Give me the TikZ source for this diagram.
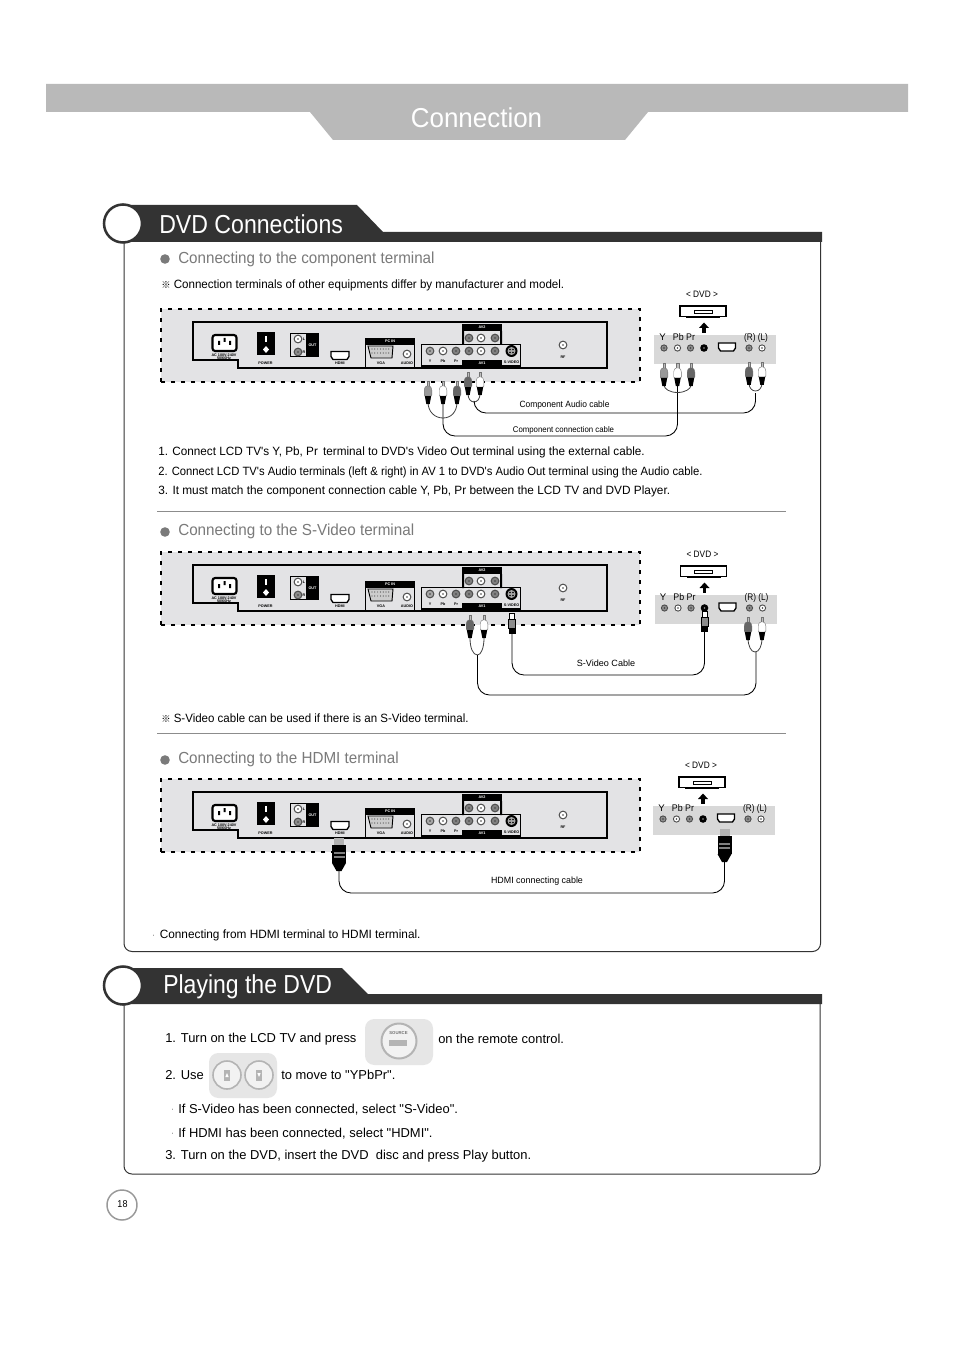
\documentclass[tikz,border=0pt]{standalone}
\usepackage{fontspec}
\usepackage{graphicx}
\setmainfont{Liberation Sans}
\newfontfamily\plainf{Liberation Sans}
\newfontfamily\cjkf{Noto Sans CJK SC}
\usetikzlibrary{calc}
\definecolor{bannerdark}{HTML}{333333}
\definecolor{titlegray}{HTML}{B9B9B9}
\definecolor{panelgray}{HTML}{E3E3E5}
\definecolor{headgray}{HTML}{7A7A7A}
\definecolor{keygray}{HTML}{E6E6E6}
\definecolor{ringgray}{HTML}{B4B4B4}
\definecolor{dvdgray}{HTML}{D8D8D8}
\newcommand{\xs}[2]{\scalebox{#1}[1]{#2}}
\tikzset{
 lbl/.style={inner sep=0pt,anchor=west,text=black,font=\plainf\fontsize{9}{11}\selectfont},
 lblb/.style={inner sep=0pt,anchor=west,text=black,font=\plainf\fontsize{9.7}{11}\selectfont},
 head/.style={inner sep=0pt,anchor=west,text=headgray,font=\fontsize{12}{14}\selectfont},
 capt/.style={inner sep=0pt,text=black,font=\fontsize{7}{9}\selectfont},
 conn/.style={inner sep=0pt,text=black,font=\fontsize{6.8}{9}\selectfont},
 mini/.style={inner sep=0pt,font=\bfseries\fontsize{2.8}{3}\selectfont},
 banner/.style={inner sep=0pt,anchor=west,text=white,font=\fontsize{19.5}{22}\selectfont},
 frameline/.style={draw=bannerdark,line width=0.75pt},
 cable/.style={draw=black,line width=0.65pt,rounded corners=9pt},
 loopc/.style={draw=black!75,line width=0.6pt},
 rule/.style={draw=black!45,line width=0.6pt},
}
% jack: x, y, fill
\newcommand{\jack}[3]{%
 \fill[black!70] (#1,#2) circle[radius=4.4];
 \fill[#3] (#1,#2) circle[radius=3.2];
 \fill[black!75] (#1,#2) circle[radius=0.9];
}
% small jack for the dvd strip
\newcommand{\sjack}[3]{%
 \fill[black!70] (#1,#2) circle[radius=3.6];
 \fill[#3] (#1,#2) circle[radius=2.5];
 \fill[black!75] (#1,#2) circle[radius=0.8];
}
% rca plug: x, top, body colour
\newcommand{\rca}[3]{%
 \filldraw[draw=black!55,fill=black!25,line width=0.25pt] ($(#1,#2)+(-1.2,0)$) rectangle ($(#1,#2)+(1.2,5)$);
 \filldraw[draw=black!55,fill=#3,line width=0.3pt,rounded corners=0.8pt] ($(#1,#2)+(-2.2,5)$) -- ($(#1,#2)+(2.2,5)$) -- ($(#1,#2)+(3.8,8)$) -- ($(#1,#2)+(3.8,15)$) -- ($(#1,#2)+(-3.8,15)$) -- ($(#1,#2)+(-3.8,8)$) -- cycle;
 \fill[black] ($(#1,#2)+(-3.2,15)$) -- ($(#1,#2)+(3.2,15)$) -- ($(#1,#2)+(1.7,23)$) -- ($(#1,#2)+(-1.7,23)$) -- cycle;
}
\newcommand{\svplug}[2]{%
 \filldraw[draw=black,fill=white,line width=0.6pt] ($(#1,#2)+(-2.5,0)$) rectangle ($(#1,#2)+(2.5,6)$);
 \filldraw[draw=black,fill=black!45,line width=0.4pt] ($(#1,#2)+(-3.5,6)$) rectangle ($(#1,#2)+(3.5,15)$);
 \fill[black] ($(#1,#2)+(-3.5,15)$) rectangle ($(#1,#2)+(3.5,21)$);
}
\newcommand{\hdmiplug}[2]{%
 \fill[black!30] ($(#1,#2)+(-5,0)$) rectangle ($(#1,#2)+(5,7)$);
 \fill[black] ($(#1,#2)+(-7,7)$) rectangle ($(#1,#2)+(7,25)$);
 \fill[black!50] ($(#1,#2)+(-5.5,14)$) rectangle ($(#1,#2)+(5.5,16)$);
 \fill[black!50] ($(#1,#2)+(-5.5,18)$) rectangle ($(#1,#2)+(5.5,20)$);
 \fill[black] ($(#1,#2)+(-7,25)$) -- ($(#1,#2)+(7,25)$) -- ($(#1,#2)+(2.5,33)$) -- ($(#1,#2)+(-2.5,33)$) -- cycle;
}
\newcommand{\hdmiport}[3]{%
 \draw[black,line width=1pt,fill=white] ($(#1,#2)+(-#3,-4)$) -- ($(#1,#2)+(#3,-4)$) -- ($(#1,#2)+(#3,1)$) -- ($(#1,#2)+(#3-2,4)$) -- ($(#1,#2)+(-#3+2,4)$) -- ($(#1,#2)+(-#3,1)$) -- cycle;
}
% rear panel drawn at the position of the first one
\newcommand{\rearpanel}{%
 \filldraw[fill=panelgray,draw=none] (161,309) rectangle (640,382);
 \draw[black,line width=1.5pt,dash pattern=on 3pt off 4.5pt] (161,382) -- (161,309) -- (640,309) -- (640,382) -- cycle;
 \draw[black,line width=0.8pt] (193,360) -- (193,322) -- (607,322) -- (607,368) -- (238,368) -- (238,360) -- cycle;
 \draw[black,line width=1.1pt] (607,368) -- (238,368) -- (238,360) -- (193,360);
 % AC
 \filldraw[fill=white,draw=black,line width=1.6pt,rounded corners=2pt] (212.5,335) rectangle (236.5,351);
 \fill[black] (218,341) rectangle (220,345) (223.5,338) rectangle (225.5,342) (229,341) rectangle (231,345);
 \node[mini] (ac) at (224,355) {AC 100V-240V};
 \node[mini] (hz) at (224,358.5) {50/60Hz};
 % power
 \fill[black] (257,332) rectangle (275,355);
 \fill[white] (265,336) rectangle (267,342);
 \fill[white] (266,346) -- (269,349.5) -- (266,353) -- (263,349.5) -- cycle;
 \node[mini] (pw) at (265.5,363.5) {POWER};
 % out
 \fill[black] (290,333) rectangle (319,357);
 \fill[panelgray] (291,334) rectangle (306,356);
 \jack{298}{339}{white}
 \jack{298}{352}{black!45}
 \node[mini,text=white] (ou) at (312.5,345) {OUT};
 \node[mini] (ol) at (304,339) {L};
 \node[mini] (or) at (304,352) {R};
 % hdmi
 \hdmiport{340}{355.5}{9}
 \node[mini] (hd) at (340,363.5) {HDMI};
 % pc in
 \fill[black] (365,338) rectangle (415,369);
 \fill[panelgray] (366,345) rectangle (414,367);
 \filldraw[fill=black!20,draw=black,line width=0.7pt] (368,346) -- (393,346) -- (392,358) -- (371,358) -- cycle;
 \foreach \i in {0,...,6}{\fill[black!70] ({372+\i*2.8},349) circle[radius=0.6]; \fill[black!70] ({372+\i*2.8},353) circle[radius=0.6];}
 \jack{407}{354}{white}
 \node[mini,text=white] (pc) at (390,341.5) {PC IN};
 \node[mini] (vg) at (381,363.5) {VGA};
 \node[mini] (au) at (407,363.5) {AUDIO};
 % av1
 \draw[black,line width=1.2pt] (421.5,344.5) rectangle (520.5,366);
 \fill[black] (462,360) rectangle (502,366);
 \jack{430}{351}{black!35}
 \jack{443}{351}{white}
 \jack{456}{351}{black!50}
 \jack{469}{351}{black!50}
 \jack{481}{351}{white}
 \jack{495}{351}{black!50}
 \fill[black] (511.5,351) circle[radius=6];
 \fill[black!35] (511.5,351) circle[radius=4];
 \fill[black] (510,349.5) circle[radius=0.9] (513,349.5) circle[radius=0.9] (510,352.5) circle[radius=0.9] (513,352.5) circle[radius=0.9];
 \node[mini] (ay) at (430,361.5) {Y};
 \node[mini] (ab) at (443,361.5) {Pb};
 \node[mini] (ar) at (456,361.5) {Pr};
 \node[mini,text=white] (a1) at (482,363) {AV1};
 \node[mini] (sv) at (511.5,362) {S-VIDEO};
 % av2
 \fill[black] (462,324) rectangle (502,331);
 \fill[black] (462,331) rectangle (464,345) (500,331) rectangle (502,345);
 \node[mini,text=white] (a2) at (482,327.5) {AV2};
 \jack{469}{338}{black!50}
 \jack{481}{338}{white}
 \jack{495}{338}{black!50}
 % rf
 \jack{563}{345}{white}
 \node[mini] (rf) at (563,357.5) {RF};
}
% dvd side drawn at position of the first one
\newcommand{\dvdunit}{%
 \filldraw[fill=white,draw=black,line width=1.1pt] (680,306) rectangle (726,316.5);
 \draw[black,line width=0.6pt] (694,310.5) rectangle (712,313.5);
 \fill[black] (686,316.5) rectangle (720,318);
 \fill[black] (702.2,333) rectangle (705.8,327.5);
 \fill[black] (699,328) -- (704,322.5) -- (709,328) -- cycle;
 \node[capt] (dl) at (702,294) {\xs{.89}{< DVD >}};
}
\newcommand{\dvdstrip}{%
 \fill[dvdgray] (654,335) rectangle (776,364);
 \node[capt,font=\fontsize{7.2}{9}\selectfont] (ly) at (662.5,337.5) {Y};
 \node[capt,font=\fontsize{7.2}{9}\selectfont] (lb) at (684,337.5) {\xs{.92}{Pb Pr}};
 \node[capt,font=\fontsize{7.2}{9}\selectfont] (lr) at (756,338) {\xs{.86}{(R) (L)}};
 \sjack{664}{348}{black!45}
 \sjack{677.5}{348}{white}
 \sjack{690.5}{348}{black!45}
 \fill[black] (704,348) circle[radius=3.8];
 \fill[black!40] (704,348) circle[radius=0.8];
 \hdmiport{727}{347}{8.5}
 \sjack{749}{348}{black!45}
 \sjack{762}{348}{white}
}
\begin{document}
\begin{tikzpicture}[x=0.75pt,y=-0.75pt]
\useasboundingbox (0,0) rectangle (954,1351);
\fill[white] (0,0) rectangle (954,1351);
% title
\fill[titlegray] (46,84) -- (908,84) -- (908,112) -- (648,112) -- (625,140) -- (333,140) -- (310,112) -- (46,112) -- cycle;
\node[inner sep=0pt,text=white,font=\fontsize{20.5}{24}\selectfont] (title) at (476.5,118) {\xs{.95}{Connection}};
% frames
\draw[frameline,rounded corners=6pt] (124,242) -- (124,951.5) -- (820.5,951.5) -- (820.5,242);
\draw[frameline,rounded corners=6pt] (124,1004) -- (124,1174) -- (820,1174) -- (820,1004);
% banners
\fill[bannerdark] (123,205) -- (357,205) -- (383,232) -- (822,232) -- (822,242) -- (123,242) -- cycle;
\filldraw[fill=white,draw=bannerdark,line width=1.9pt] (123,223.5) circle[radius=19];
\node[banner] (b1) at (159,224.5) {\xs{.889}{DVD Connections}};
\fill[bannerdark] (123,968) -- (342,968) -- (368,994) -- (822,994) -- (822,1004) -- (123,1004) -- cycle;
\filldraw[fill=white,draw=bannerdark,line width=1.9pt] (123,985.5) circle[radius=19];
\node[banner] (b2) at (163,986.5) {\xs{.885}{Playing the DVD}};
% section 1
\fill[headgray] (165,259) circle[radius=4.8];
\node[head] (h1) at (178,259) {\xs{.948}{Connecting to the component terminal}};
\node[inner sep=0pt,font=\cjkf\fontsize{7}{8}\selectfont] (s1) at (166,285) {※};
\node[lbl] (n1) at (173.5,285) {\xs{.965}{Connection terminals of other equipments differ by manufacturer and model.}};
\rearpanel
\dvdunit
\dvdstrip
% cables section 1
\coordinate (p1) at (428,402); \coordinate (p2) at (443,402); \coordinate (p3) at (457,402);
\coordinate (j1) at (443,418);
\draw[loopc] (p1) .. controls (428,412) and (435,418) .. (j1) .. controls (451,418) and (457,412) .. (p3);
\draw[cable] (p2) -- (443,436) -- (677.5,436) -- (677.5,385);
\coordinate (q1) at (664,385); \coordinate (q3) at (691,385); \coordinate (j2) at (677.5,392.5);
\draw[loopc] (q1) .. controls (664,389) and (670,392.5) .. (j2) .. controls (685,392.5) and (691,389) .. (q3);
\coordinate (a1) at (468,394); \coordinate (a2) at (480,394); \coordinate (j3) at (474,402);
\draw[loopc] (a1) .. controls (468,399) and (471,402) .. (j3) .. controls (477,402) and (480,399) .. (a2);
\draw[cable] (j3) -- (474,413) -- (755.5,413) -- (755.5,393);
\coordinate (b1c) at (749,383); \coordinate (b2c) at (762,383); \coordinate (j4) at (755.5,391);
\draw[loopc] (b1c) .. controls (749,388) and (752,391) .. (j4) .. controls (759,391) and (762,388) .. (b2c);
\rca{428}{381}{black!40}\rca{443}{381}{white}\rca{457}{381}{black!60}
\rca{468}{372}{black!60}\rca{480}{372}{white}
\rca{664}{363}{black!40}\rca{677.5}{363}{white}\rca{691}{363}{black!60}
\rca{749}{362}{black!60}\rca{762}{362}{white}
\node[conn] (c1) at (564.5,405) {\xs{.93}{Component Audio cable}};
\node[conn,font=\fontsize{6.2}{8}\selectfont] (c2) at (563.5,430.5) {\xs{.945}{Component connection cable}};
\node[lbl] (t1) at (158,452.5) {\xs{.978}{1. Connect LCD TV's Y, Pb, Pr\, terminal to DVD's Video Out terminal using the external cable.}};
\node[lbl] (t2) at (158,472.5) {\xs{.938}{2. Connect LCD TV's Audio terminals (left \& right) in AV 1 to DVD's Audio Out terminal using the Audio cable.}};
\node[lbl] (t3) at (158,491.5) {\xs{.986}{3. It must match the component connection cable Y, Pb, Pr between the LCD TV and DVD Player.}};
\draw[rule] (157,511) -- (786,511);
% section 2
\fill[headgray] (165,532) circle[radius=4.8];
\node[head] (h2) at (178,531) {\xs{.952}{Connecting to the S-Video terminal}};
\begin{scope}[shift={(0,243)}]\rearpanel\end{scope}
\begin{scope}[shift={(0.5,260)}]\dvdunit\dvdstrip\end{scope}
\coordinate (sa1) at (470,638); \coordinate (sa2) at (484,638); \coordinate (sj1) at (477.5,655);
\draw[loopc] (sa1) .. controls (470,648) and (473,655) .. (sj1) .. controls (481,655) and (484,648) .. (sa2);
\draw[cable] (sj1) -- (477.5,695) -- (756,695) -- (756,652);
\coordinate (sb1) at (748,638); \coordinate (sb2) at (762,638); \coordinate (sj2) at (755,652);
\draw[loopc] (sb1) .. controls (748,646) and (751,652) .. (sj2) .. controls (759,652) and (762,646) .. (sb2);
\coordinate (sv1) at (512,634); \coordinate (sv2) at (704.5,632);
\draw[cable] (sv1) -- (512,675) -- (704.5,675) -- (sv2);
\rca{470}{615}{black!60}\rca{484}{615}{white}
\rca{748}{617}{black!60}\rca{762}{617}{white}
\svplug{512}{613}\svplug{704.5}{611}
\node[conn] (c3) at (606,663.5) {S-Video Cable};
\node[inner sep=0pt,font=\cjkf\fontsize{7}{8}\selectfont] (s2) at (166,719) {※};
\node[lbl] (n2) at (173.5,718) {\xs{.96}{S-Video cable can be used if there is an S-Video terminal.}};
\draw[rule] (157,733) -- (786,733);
% section 3
\fill[headgray] (165,760) circle[radius=4.8];
\node[head] (h3) at (178,759) {\xs{.95}{Connecting to the HDMI terminal}};
\begin{scope}[shift={(0,470)}]\rearpanel\end{scope}
\begin{scope}[shift={(-1,471)}]\dvdunit\dvdstrip\end{scope}
\coordinate (hd1) at (339,870); \coordinate (hd2) at (724.5,862);
\draw[cable] (hd1) -- (339,893) -- (724.5,893) -- (hd2);
\hdmiplug{339}{838}\hdmiplug{724.5}{829}
\node[conn] (c4) at (537,881) {\xs{.98}{HDMI connecting cable}};
\node[lbl,font=\fontsize{5}{6}\selectfont] (d1) at (152,936.5) {·};
\node[lbl] (t4) at (159.5,935.5) {\xs{.985}{Connecting from HDMI terminal to HDMI terminal.}};
% playing
\fill[keygray,rounded corners=7pt] (365,1019) rectangle (433,1065);
\filldraw[fill=keygray!50,draw=ringgray,line width=1.5pt] (399,1041) circle[radius=17.5];
\fill[ringgray] (389,1040) rectangle (407,1046);
\node[inner sep=0pt,text=black!55,font=\bfseries\fontsize{3.2}{4}\selectfont] (src) at (398.5,1033.5) {SOURCE};
\fill[keygray,rounded corners=7pt] (209,1053) rectangle (277,1098);
\filldraw[fill=keygray!50,draw=ringgray,line width=1.2pt] (227,1075) circle[radius=14];
\filldraw[fill=keygray!50,draw=ringgray,line width=1.2pt] (259,1075) circle[radius=14];
\fill[ringgray] (224,1070) rectangle (230,1081);
\fill[ringgray] (256,1070) rectangle (262,1081);
\fill[white] (227,1073) -- (225.3,1077) -- (228.7,1077) -- cycle;
\fill[white] (259,1077) -- (257.3,1073) -- (260.7,1073) -- cycle;
\node[lblb] (r1) at (165,1039) {1. Turn on the LCD TV and press};
\node[lblb] (r1b) at (438,1039) {on the remote control.};
\node[lblb] (r2) at (165,1075) {2. Use};
\node[lblb] (r2b) at (281,1075) {to move to "YPbPr".};
\node[lbl,font=\fontsize{5}{6}\selectfont] (d2) at (171,1110.5) {·};
\node[lblb] (r3) at (178,1110) {If S-Video has been connected, select "S-Video".};
\node[lbl,font=\fontsize{5}{6}\selectfont] (d3) at (171,1134.5) {·};
\node[lblb] (r4) at (178,1134) {If HDMI has been connected, select "HDMI".};
\node[lblb] (r5) at (165,1156) {3. Turn on the DVD, insert the DVD\ \ disc and press Play button.};
% page number
\filldraw[fill=white,draw=black!40,line width=1.1pt] (122,1205) circle[radius=15];
\node[inner sep=0pt,font=\fontsize{7.5}{9}\selectfont] (pg) at (122.5,1204) {\xs{.9}{18}};
\end{tikzpicture}
\end{document}
